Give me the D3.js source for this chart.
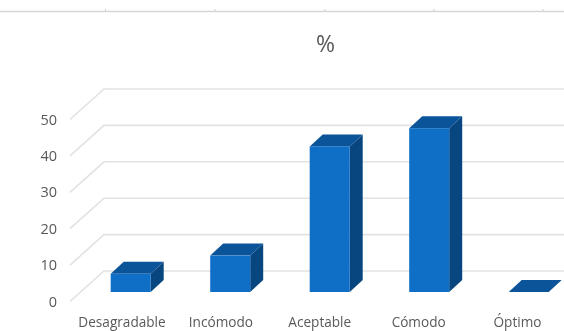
<!DOCTYPE html>
<html><head><meta charset="utf-8">
<script src="https://cdn.jsdelivr.net/npm/d3@7"></script>
<style>html,body{margin:0;background:#fff}svg{display:block;filter:blur(.5px)}text{font-family:"Open Sans",sans-serif;fill:#595959}</style>
</head><body><svg id="c" width="564" height="331"></svg>
<script>
const categories=["Desagradable","Incómodo","Aceptable","Cómodo","Óptimo"];
const percent=[5,10,40,45,0];
const tickValues=[0,10,20,30,40,50];
const title="%";
const ruleTicks=[105.5,215,325,434,543];

const svg=d3.select("#c");
const x=d3.scaleBand().domain(categories).range([110.7,548.7]).paddingInner(.598).paddingOuter(0);
const xLabel=d3.scalePoint().domain(categories).range([121.5,517]);
const y=d3.scaleLinear().domain([0,50]).range([292,110]);
const dx=13,dy=12;

svg.append("line").attr("x1",0).attr("x2",564).attr("y1",11.5).attr("y2",11.5).attr("stroke","#d6d6d6").attr("stroke-width",1.4);
svg.selectAll(".rt").data(ruleTicks).join("line").attr("x1",d=>d).attr("x2",d=>d).attr("y1",9).attr("y2",11).attr("stroke","#cfcfcf");

const grid=svg.append("g").attr("fill","none").attr("stroke","#e2e2e2").attr("stroke-width",1.6);
grid.selectAll("path").data(tickValues).join("path")
  .attr("d",v=>`M70,${y(v)+9.5}L104,${y(v)-21}H564`);

const ya=svg.append("g").attr("transform","translate(60,9.5)").call(d3.axisLeft(y).tickValues(tickValues).tickSize(0).tickPadding(3));
ya.select(".domain").remove();
ya.selectAll("text").style("font-size","14.5px").style("font-family","'Open Sans',sans-serif").attr("fill","#595959");
const xa=svg.append("g").attr("transform","translate(0,317)").call(d3.axisBottom(xLabel).tickSize(0).tickPadding(0));
xa.select(".domain").remove();
xa.selectAll("text").style("font-size","13.6px").style("font-family","'Open Sans',sans-serif").attr("fill","#595959");

const bars=svg.append("g").selectAll("g").data(categories.map((c,i)=>({c,v:percent[i]}))).join("g");
bars.append("path").attr("fill","#07467f").attr("d",d=>{const r=x(d.c)+x.bandwidth();return `M${r},${y(0)}V${y(d.v)}l${dx},${-dy}V${y(0)-dy}Z`}).style("display",d=>d.v?null:"none");
bars.append("path").attr("fill","#0b5499").attr("d",d=>{const l=x(d.c),r=l+x.bandwidth();return `M${l},${y(d.v)}H${r}l${dx},${-dy}H${l+dx}Z`});
bars.append("rect").attr("fill","#0f6fc6").attr("x",d=>x(d.c)).attr("width",x.bandwidth()).attr("y",d=>y(d.v)).attr("height",d=>y(0)-y(d.v));

svg.append("text").attr("x",325.5).attr("y",52).attr("text-anchor","middle").style("font-size","23px").text(title);
</script></body></html>
